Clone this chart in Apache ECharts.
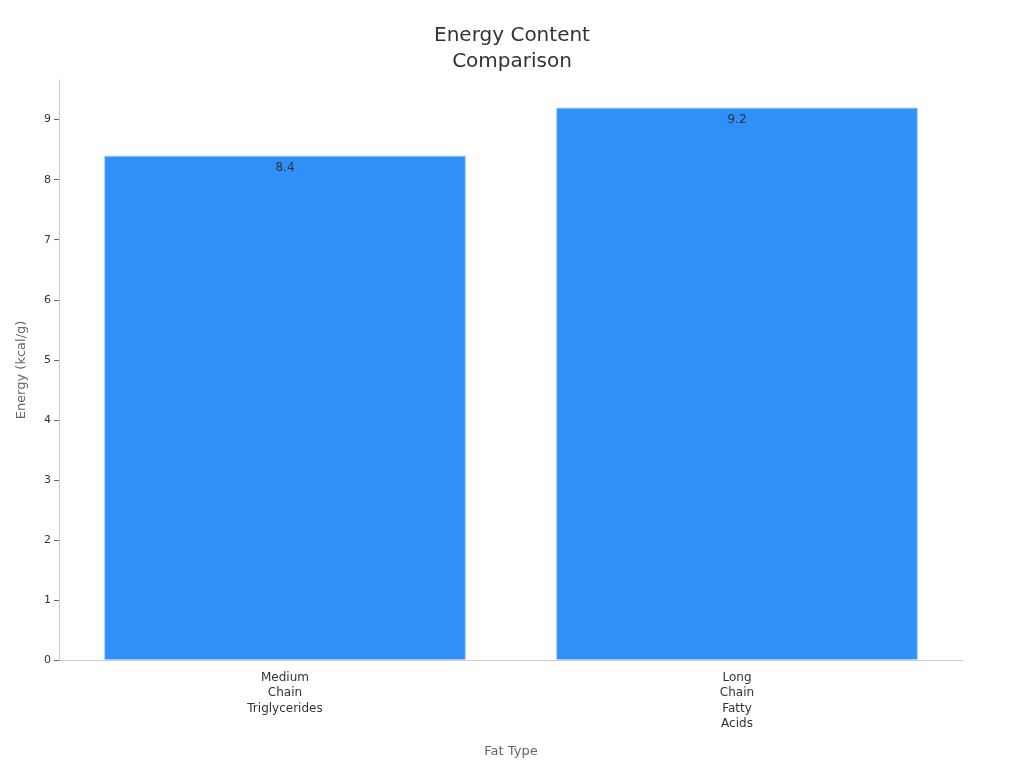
<!DOCTYPE html>
<html><head><meta charset="utf-8">
<script src="https://cdn.jsdelivr.net/npm/echarts@6/dist/echarts.min.js"></script>
<style>html,body{margin:0;padding:0;background:#fff}#c{width:1024px;height:768px}</style>
</head><body><div id="c"></div>
<script>
const categories = ['Medium\nChain\nTriglycerides', 'Long\nChain\nFatty\nAcids'];
const energyValues = [8.4, 9.2];
const yTicks = [0,1,2,3,4,5,6,7,8,9];

const chart = echarts.init(document.getElementById('c'));
chart.setOption({
  backgroundColor: '#fff',
  textStyle: { fontFamily: 'DejaVu Sans' },
  title: {
    text: 'Energy Content\nComparison',
    left: 'center', top: 18,
    textStyle: { fontSize: 20, fontWeight: 'normal', color: '#333', lineHeight: 26, fontFamily: 'DejaVu Sans' }
  },
  grid: { left: 59, right: 61, top: 80, bottom: 108 },
  xAxis: {
    type: 'category',
    data: categories,
    name: 'Fat Type', nameLocation: 'middle', nameGap: 85,
    nameTextStyle: { color: '#666', fontSize: 13 },
    axisLine: { lineStyle: { color: '#ccc' } },
    axisTick: { alignWithLabel: true, lineStyle: { color: '#999' } },
    axisLabel: { color: '#333', fontSize: 12, lineHeight: 15.5, margin: 10, interval: 0 }
  },
  yAxis: {
    type: 'value',
    min: 0, max: 9.66,
    name: 'Energy (kcal/g)', nameLocation: 'middle', nameGap: 31,
    nameTextStyle: { color: '#666', fontSize: 13 },
    axisLine: { show: true, lineStyle: { color: '#ccc' } },
    axisTick: { show: true, customValues: yTicks, lineStyle: { color: '#666' } },
    splitLine: { show: false },
    axisLabel: { color: '#333', fontSize: 11, margin: 8, customValues: yTicks }
  },
  series: [{
    type: 'bar',
    data: energyValues,
    barCategoryGap: '20%',
    itemStyle: { color: '#2f91f8', borderColor: '#a8cdf5', borderWidth: 1 },
    label: { show: true, position: 'insideTop', distance: 6, color: '#333', fontSize: 12 }
  }]
});
</script></body></html>
